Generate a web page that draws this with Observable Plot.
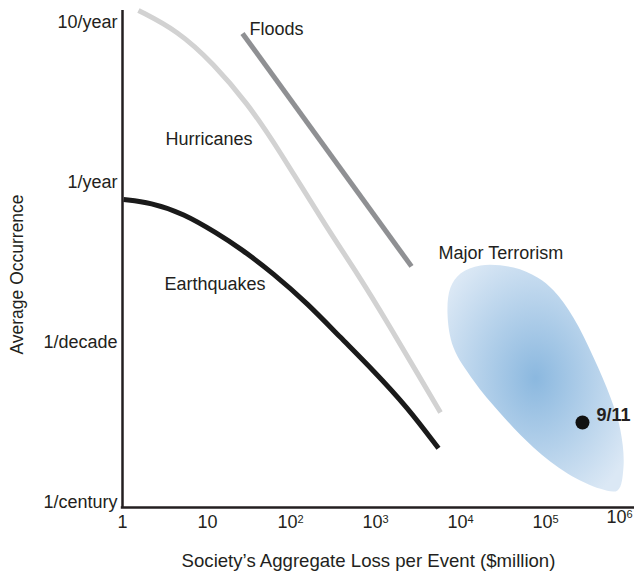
<!DOCTYPE html>
<html>
<head>
<meta charset="utf-8">
<script src="https://cdn.jsdelivr.net/npm/d3@7"></script>
<script src="https://cdn.jsdelivr.net/npm/@observablehq/plot@0.6"></script>
<style>
  html, body { margin: 0; padding: 0; background: #fff; }
</style>
</head>
<body>
<div id="chart"></div>
<script>
// Hurricanes exceedance curve (loss $million, occurrences per year)
const hurricaneLoss = [1.54, 4.44, 11.77, 29.55, 66.6, 265.2, 582, 1422, 2955, 5510];
const hurricaneFreq = [11.9, 8.91, 5.54, 3.12, 1.655, 0.501, 0.27, 0.124, 0.064, 0.0365];

// Floods
const floodLoss = [25.8, 2512];
const floodFreq = [8.54, 0.299];

// Earthquakes
const quakeLoss = [1.03, 2.14, 5.22, 13.1, 24.45, 59.8, 150.1, 367, 897, 2254, 5219];
const quakeFreq = [0.783, 0.75, 0.64, 0.48, 0.387, 0.27, 0.1753, 0.1075, 0.0668, 0.0393, 0.0218];

// Major terrorism region outline
const terrorLoss = [7224, 6660, 7830, 13460, 28000, 68400, 172000, 420000, 667000, 783000, 722000, 551000, 348000, 202000, 118000, 76270, 39810, 16280, 9474];
const terrorFreq = [0.2208, 0.152, 0.093, 0.0579, 0.036, 0.0221, 0.0152, 0.0122, 0.0119, 0.0166, 0.0282, 0.0453, 0.0806, 0.143, 0.211, 0.2547, 0.2943, 0.303, 0.27];

// 9/11 event
const eventLabel = ["9/11"];
const eventLoss = [258000];
const eventFreq = [0.0316];

// Series labels
const seriesNames = ["Floods", "Hurricanes", "Earthquakes", "Major Terrorism"];
const seriesLabelLoss = [31.2, 3.2, 3.12, 5220];
const seriesLabelFreq = [9.04, 1.86, 0.23, 0.36];

// Axis ticks
const xTicks = [1, 10, 1e2, 1e3, 1e4, 1e5, 1e6];
const xTickBase = ["1", "10", "10", "10", "10", "10", "10"];
const xTickExp = ["", "", "2", "3", "4", "5", "6"];
const yTicks = [10, 1, 0.1, 0.01];
const yTickLabels = ["10/year", "1/year", "1/decade", "1/century"];

const xTitle = "Society\u2019s Aggregate Loss per Event ($million)";
const yTitle = "Average Occurrence";

const toRows = (xs, ys) => xs.map((x, i) => ({x, y: ys[i]}));
const hurricanes = toRows(hurricaneLoss, hurricaneFreq);
const floods = toRows(floodLoss, floodFreq);
const quakes = toRows(quakeLoss, quakeFreq);
const terror = toRows(terrorLoss, terrorFreq);
const events = eventLabel.map((t, i) => ({t, x: eventLoss[i], y: eventFreq[i]}));
const seriesLabels = seriesNames.map((t, i) => ({t, x: seriesLabelLoss[i], y: seriesLabelFreq[i]}));
const xTickRows = xTicks.map((v, i) => ({v, base: xTickBase[i], exp: xTickExp[i], last: i === xTicks.length - 1}));
const yTickRows = yTicks.map((v, i) => ({v, label: yTickLabels[i]}));

const font = "'Liberation Sans', Arial, Helvetica, sans-serif";
const ink = "#231f20";

const chart = Plot.plot({
  width: 634,
  height: 576,
  marginLeft: 122,
  marginRight: 2,
  marginTop: 22,
  marginBottom: 74,
  style: {fontFamily: font, fontSize: "18px", background: "#fff", color: ink, overflow: "visible"},
  x: {type: "log", domain: [1, 1e6], axis: null},
  y: {type: "log", domain: [0.01, 10], axis: null},
  marks: [
    // terrorism region
    Plot.line(terror, {x: "x", y: "y", curve: "catmull-rom-closed", fill: "url(#terrorGrad)", stroke: "none"}),
    // curves
    Plot.line(hurricanes, {x: "x", y: "y", curve: "basis", stroke: "#d2d2d2", strokeWidth: 5, strokeLinecap: "butt"}),
    Plot.line(floods, {x: "x", y: "y", stroke: "#8f9093", strokeWidth: 5, strokeLinecap: "butt"}),
    Plot.line(quakes, {x: "x", y: "y", curve: "basis", stroke: "#1a1a1a", strokeWidth: 5, strokeLinecap: "butt"}),
    // axes lines
    Plot.ruleX([1], {stroke: ink, strokeWidth: 2.5, insetTop: -12, insetBottom: -6}),
    Plot.ruleY([0.01], {stroke: ink, strokeWidth: 2.5, dy: 5, insetLeft: -1.2, insetRight: -2}),
    // series labels
    Plot.text(seriesLabels, {x: "x", y: "y", text: "t", textAnchor: "start", fill: ink}),
    // 9/11
    Plot.dot(events, {x: "x", y: "y", r: 7, fill: "#111", stroke: "none"}),
    Plot.text(events, {x: "x", y: "y", text: "t", textAnchor: "start", dx: 14, dy: -7, fontWeight: "bold", fill: ink}),
    // y tick labels
    Plot.text(yTickRows, {y: "v", text: "label", frameAnchor: "left", textAnchor: "end", dx: -5, fill: ink}),
    // x tick labels
    Plot.text(xTickRows.filter(d => d.exp === ""), {x: "v", text: "base", frameAnchor: "bottom", textAnchor: "middle", dy: 25, fill: ink}),
    Plot.text(xTickRows.filter(d => d.exp !== "" && !d.last), {x: "v", text: "base", frameAnchor: "bottom", textAnchor: "end", dx: 5, dy: 25, fill: ink}),
    Plot.text(xTickRows.filter(d => d.exp !== "" && !d.last), {x: "v", text: "exp", frameAnchor: "bottom", textAnchor: "start", dx: 5, dy: 20, fontSize: 11, fill: ink}),
    Plot.text(xTickRows.filter(d => d.last), {x: "v", text: "base", frameAnchor: "bottom", textAnchor: "end", dx: -6, dy: 20, fill: ink}),
    Plot.text(xTickRows.filter(d => d.last), {x: "v", text: "exp", frameAnchor: "bottom", textAnchor: "start", dx: -6, dy: 15, fontSize: 11, fill: ink}),
    // axis titles
    Plot.text([xTitle], {frameAnchor: "bottom", textAnchor: "middle", dx: -9, dy: 64, fontSize: 18.6, fill: ink}),
    Plot.text([yTitle], {frameAnchor: "left", textAnchor: "middle", dx: -105, dy: 12, rotate: -90, fontSize: 17.5, fill: ink})
  ]
});

const svg = d3.select(chart);
const grad = svg.insert("defs", ":first-child")
  .append("radialGradient")
  .attr("id", "terrorGrad")
  .attr("cx", 0.5).attr("cy", 0.5).attr("r", 0.62);
grad.append("stop").attr("offset", "0%").attr("stop-color", "#8bb8df");
grad.append("stop").attr("offset", "100%").attr("stop-color", "#dbe8f5");

document.getElementById("chart").appendChild(chart);
</script>
</body>
</html>
